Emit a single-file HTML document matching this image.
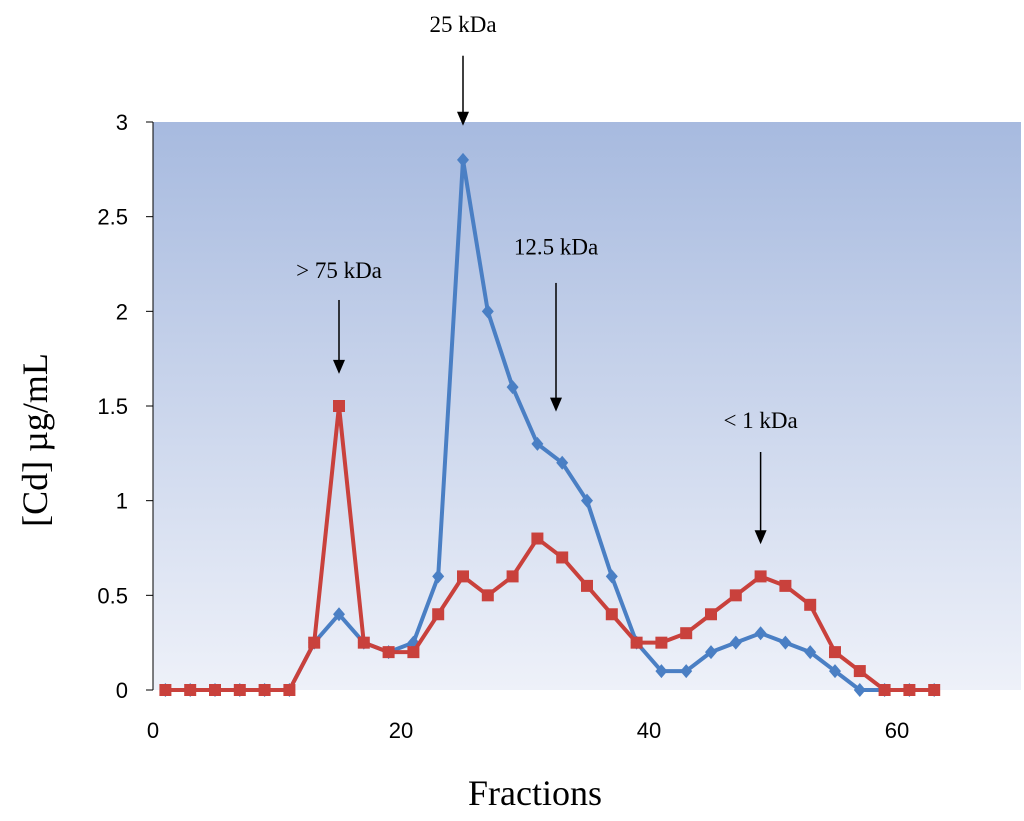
<!DOCTYPE html>
<html><head><meta charset="utf-8"><style>
body{margin:0;background:#fff;width:1024px;height:816px;overflow:hidden}
svg text{font-family:"Liberation Serif",serif;fill:#000}
</style></head><body>
<svg id="chart" width="1024" height="816" xmlns="http://www.w3.org/2000/svg">
<defs><linearGradient id="bg" x1="0" y1="0" x2="0" y2="1"><stop offset="0" stop-color="#a7badf"/><stop offset="1" stop-color="#eef1f9"/></linearGradient></defs>
<rect x="153" y="122" width="868" height="568" fill="url(#bg)"/>
<g id="axes"></g><g id="series"></g>
<text transform="translate(47,440) rotate(-90)" text-anchor="middle" font-size="36">[Cd] µg/mL</text>
<text x="535" y="805" text-anchor="middle" font-size="36">Fractions</text>
<g id="annots"></g>
</svg>
<script>
const xTicks=[0,20,40,60];
const yTicks=[0,0.5,1,1.5,2,2.5,3];
const yTickLabels=["0","0.5","1","1.5","2","2.5","3"];
const fractions=[1,3,5,7,9,11,13,15,17,19,21,23,25,27,29,31,33,35,37,39,41,43,45,47,49,51,53,55,57,59,61,63];
const blueVals=[0,0,0,0,0,0,0.25,0.4,0.25,0.2,0.25,0.6,2.8,2.0,1.6,1.3,1.2,1.0,0.6,0.25,0.1,0.1,0.2,0.25,0.3,0.25,0.2,0.1,0,0,0,0];
const redVals=[0,0,0,0,0,0,0.25,1.5,0.25,0.2,0.2,0.4,0.6,0.5,0.6,0.8,0.7,0.55,0.4,0.25,0.25,0.3,0.4,0.5,0.6,0.55,0.45,0.2,0.1,0,0,0];
const annotLabels=["25 kDa","> 75 kDa","12.5 kDa","< 1 kDa"];
const annotX=[25,15,32.5,49];
const annotLabelY=[3.475,2.176,2.30,1.384];
const annotTop=[3.35,2.06,2.15,1.257];
const annotTip=[2.98,1.67,1.47,0.77];
const NS="http://www.w3.org/2000/svg";
const X=v=>153+v*(868/70), Y=v=>690-v*(568/3);
function mk(t,a,p){const e=document.createElementNS(NS,t);for(const k in a)e.setAttribute(k,a[k]);p.appendChild(e);return e;}
const ax=document.getElementById('axes');
const yl=mk('line',{x1:153,y1:122,x2:153,y2:690,stroke:'#000','stroke-width':1},ax);


yTicks.forEach((v,i)=>{mk('line',{x1:146,x2:153,y1:Y(v),y2:Y(v),stroke:'#000'},ax);
const t=mk('text',{x:128,y:Y(v)+8,'text-anchor':'end','font-size':22,style:'font-family:Liberation Sans,sans-serif'},ax);t.textContent=yTickLabels[i];

});
xTicks.forEach(v=>{const t=mk('text',{x:X(v),y:738,'text-anchor':'middle','font-size':22,style:'font-family:Liberation Sans,sans-serif'},ax);t.textContent=v;

});
const sg=document.getElementById('series');
function series(vals,col,name,shape){
const pl=mk('polyline',{points:fractions.map((f,i)=>X(f)+','+Y(vals[i])).join(' '),fill:'none',stroke:col,'stroke-width':4,'stroke-linejoin':'round'},sg);


fractions.forEach((f,i)=>{const x=X(f),y=Y(vals[i]);let m;
if(shape==='sq')m=mk('rect',{x:x-6,y:y-6,width:12,height:12,fill:col},sg);
else m=mk('path',{d:`M${x},${y-7}L${x+6},${y}L${x},${y+7}L${x-6},${y}z`,fill:col},sg);

});}
series(blueVals,'#4a7fc4','blue-series','dia');
series(redVals,'#c9413c','red-series','sq');
const an=document.getElementById('annots');
annotLabels.forEach((s,i)=>{const x=X(annotX[i]);
const t=mk('text',{x:x,y:Y(annotLabelY[i]),'text-anchor':'middle','font-size':23},an);t.textContent=s;


const y1=Y(annotTop[i]),y2=Y(annotTip[i]);
const l=mk('line',{x1:x,x2:x,y1:y1,y2:y2-12,stroke:'#000','stroke-width':1.5},an);


const h=mk('path',{d:`M${x-6},${y2-14}L${x+6},${y2-14}L${x},${y2}z`,fill:'#000'},an);

});
</script>
</body></html>
